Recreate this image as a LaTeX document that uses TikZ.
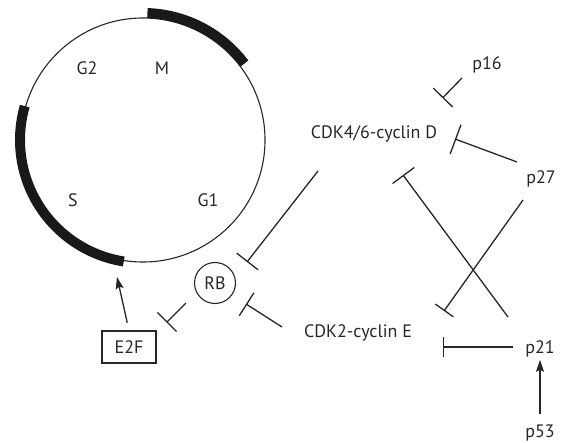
\documentclass[tikz,border=0pt]{standalone}
\usepackage{fontspec}
\setmainfont{PT Sans}
\usetikzlibrary{arrows.meta}

\begin{document}
\begin{tikzpicture}[
    x=1pt,
    y=1pt,
    lbl/.style={font=\fontsize{18pt}{21pt}\selectfont, text=black!85, inner sep=2pt},
    inhib/.style={-{Bar[width=27pt]}, line width=1.3pt, draw=black!85},
    act/.style={-{Stealth[length=12pt, width=8pt, inset=2pt]}, line width=1.3pt, draw=black!85}
]

\useasboundingbox (0,0) rectangle (562,442);

% 1. Cell cycle ring with the M and S phase bands
\draw[line width=1.1pt, draw=black!85] (143,302) circle (122);
\draw[line width=10pt, draw=black!90] (143,302) ++(37:127) arc[start angle=37, end angle=88, radius=127];
\draw[line width=10pt, draw=black!90] (143,302) ++(164:123) arc[start angle=164, end angle=261, radius=123];

% 2. Phase labels
\foreach \ph/\x/\y in {G2/87/367, M/162/367, S/73/235, G1/208/235} {
    \node[lbl, anchor=base] (ph-\ph) at (\x,\y) {\ph};
}

% 3. Complexes and inhibitors
\node[lbl, anchor=base] (cdkd) at (374,303) {CDK4/6-cyclin D};
\node[lbl, anchor=base] (cdke) at (358,104) {CDK2-cyclin E};
\node[lbl, anchor=base] (p16) at (487,372) {p16};
\node[lbl, anchor=base] (p27) at (541,258) {p27};
\node[lbl, anchor=base] (p21) at (540,89) {p21};
\node[lbl, anchor=base] (p53) at (540,5) {p53};
\node[lbl, draw=black!85, line width=1.1pt, circle, minimum size=41pt, inner sep=0pt] (rb) at (215,159) {RB};
\node[lbl, draw=black!85, line width=1.1pt, minimum width=54pt, minimum height=32pt, inner sep=0pt] (e2f) at (129,95) {E2F};

% 4. Connector end points
\coordinate (cdkd-tail) at (318,271);
\coordinate (cdke-tail) at (282,115);
\coordinate (rb-tail) at (186,139);
\coordinate (p16-tail) at (462,364);
\coordinate (p27-tailD) at (517,280);
\coordinate (p27-tailE) at (523,242);
\coordinate (p21-tailD) at (508,125);
\coordinate (p21-tailE) at (513,95);
\coordinate (rb-barD) at (247,180);
\coordinate (rb-barE) at (246,138);
\coordinate (e2f-bar) at (166.5,119.5);
\coordinate (s-start) at (117,165);
\coordinate (cdkd-bar16) at (442.5,344);
\coordinate (cdkd-bar27) at (455,303);
\coordinate (cdkd-bar21) at (403,267);
\coordinate (cdke-bar27) at (444,131);
\coordinate (cdke-bar21) at (443,95);

% 5. Inhibitions
\draw[inhib] (cdkd-tail) -- (rb-barD);
\draw[inhib] (cdke-tail) -- (rb-barE);
\draw[inhib] (rb-tail) -- (e2f-bar);
\draw[inhib] (p16-tail) -- (cdkd-bar16);
\draw[inhib, -{Bar[width=31pt]}] (p27-tailD) -- (cdkd-bar27);
\draw[inhib] (p21-tailD) -- (cdkd-bar21);
\draw[inhib, -{Bar[width=22pt]}] (p27-tailE) -- (cdke-bar27);
\draw[inhib, -{Bar[width=20pt]}] (p21-tailE) -- (cdke-bar21);

% 6. Activations
\draw[act, shorten <=8pt] (e2f.north) -- (s-start);
\draw[act, shorten <=8pt, shorten >=1pt] (p53.north) -- (p21.south);

\end{tikzpicture}
\end{document}
